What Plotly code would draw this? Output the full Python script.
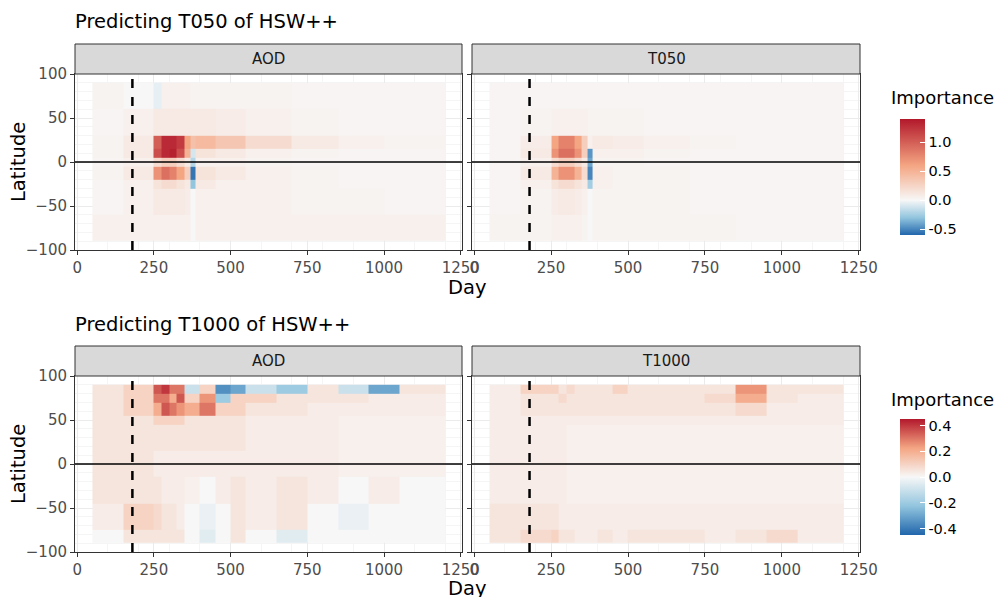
import plotly.graph_objects as go

# bin edges (day, latitude) and importance values
day_edges_top = [50, 150, 250, 275, 300, 325, 350, 370, 385, 450, 550, 700, 850, 1000, 1200]
lat_edges_top = [-90, -60, -30, -20, -5, 5, 15, 30, 60, 90]

t050_aod = [
    [0.05, 0.05, 0.05, 0.05, 0.05, 0.05, 0.05, 0.0, 0.05, 0.05, 0.05, 0.05, 0.05, 0.05],
    [0.02, 0.05, 0.1, 0.1, 0.1, 0.1, 0.08, 0.0, 0.05, 0.05, 0.05, 0.03, 0.03, 0.02],
    [0.02, 0.05, 0.15, 0.2, 0.2, 0.15, 0.1, -0.3, 0.1, 0.05, 0.05, 0.03, 0.02, 0.02],
    [0.03, 0.1, 0.7, 0.9, 0.8, 0.6, 0.3, -0.55, 0.15, 0.1, 0.05, 0.03, 0.02, 0.02],
    [0.02, 0.05, 0.2, 0.3, 0.3, 0.2, 0.1, -0.2, 0.05, 0.05, 0.03, 0.02, 0.02, 0.02],
    [0.03, 0.1, 1.1, 1.3, 1.35, 1.1, 0.5, -0.1, 0.15, 0.1, 0.05, 0.03, 0.02, 0.02],
    [0.03, 0.1, 1.0, 1.3, 1.3, 1.2, 0.6, 0.4, 0.45, 0.35, 0.2, 0.1, 0.05, 0.03],
    [0.02, 0.05, 0.1, 0.1, 0.1, 0.1, 0.1, 0.1, 0.1, 0.08, 0.05, 0.03, 0.02, 0.02],
    [0.03, 0.0, -0.05, 0.05, 0.05, 0.05, 0.05, 0.03, 0.03, 0.03, 0.03, 0.02, 0.02, 0.02],
]
t050_t050 = [
    [0.03, 0.03, 0.05, 0.05, 0.05, 0.05, 0.03, 0.0, 0.03, 0.03, 0.03, 0.03, 0.02, 0.02],
    [0.02, 0.03, 0.08, 0.1, 0.1, 0.08, 0.05, 0.0, 0.03, 0.03, 0.03, 0.02, 0.02, 0.02],
    [0.02, 0.05, 0.15, 0.2, 0.2, 0.15, 0.1, -0.25, 0.05, 0.03, 0.03, 0.02, 0.02, 0.02],
    [0.02, 0.1, 0.5, 0.7, 0.7, 0.5, 0.2, -0.5, 0.05, 0.03, 0.03, 0.02, 0.02, 0.02],
    [0.02, 0.05, 0.2, 0.3, 0.3, 0.2, 0.1, -0.4, 0.03, 0.03, 0.02, 0.02, 0.02, 0.02],
    [0.02, 0.1, 0.7, 0.9, 0.9, 0.7, 0.3, -0.45, 0.05, 0.05, 0.03, 0.02, 0.02, 0.02],
    [0.02, 0.08, 0.6, 0.8, 0.8, 0.6, 0.3, 0.05, 0.1, 0.08, 0.05, 0.03, 0.02, 0.02],
    [0.02, 0.03, 0.05, 0.05, 0.05, 0.05, 0.05, 0.03, 0.03, 0.03, 0.02, 0.02, 0.02, 0.02],
    [0.02, 0.02, 0.02, 0.02, 0.02, 0.02, 0.02, 0.02, 0.02, 0.02, 0.02, 0.02, 0.02, 0.02],
]

day_edges_bot = [50, 150, 250, 275, 300, 325, 350, 400, 450, 500, 550, 650, 750, 850, 950, 1050, 1200]
lat_edges_bot = [-90, -75, -45, -15, 15, 45, 55, 70, 80, 90]

t1000_aod = [
    [0.0, 0.05, 0.05, 0.05, 0.05, 0.05, 0.0, -0.05, 0.0, 0.05, 0.0, -0.05, 0.0, 0.0, 0.0, 0.0],
    [0.03, 0.1, 0.08, 0.05, 0.05, 0.03, 0.0, -0.03, 0.0, 0.05, 0.03, 0.05, 0.0, -0.03, 0.0, 0.0],
    [0.05, 0.05, 0.05, 0.03, 0.03, 0.03, 0.02, 0.0, 0.03, 0.05, 0.03, 0.05, 0.03, 0.0, 0.03, 0.0],
    [0.05, 0.05, 0.03, 0.03, 0.03, 0.03, 0.03, 0.03, 0.03, 0.03, 0.03, 0.03, 0.03, 0.02, 0.02, 0.02],
    [0.05, 0.05, 0.05, 0.05, 0.05, 0.05, 0.05, 0.05, 0.05, 0.05, 0.03, 0.03, 0.03, 0.02, 0.02, 0.02],
    [0.05, 0.05, 0.1, 0.1, 0.1, 0.1, 0.05, 0.05, 0.05, 0.05, 0.03, 0.03, 0.03, 0.02, 0.02, 0.02],
    [0.05, 0.1, 0.2, 0.35, 0.3, 0.25, 0.2, 0.3, 0.1, 0.1, 0.05, 0.05, 0.03, 0.03, 0.03, 0.03],
    [0.05, 0.1, 0.3, 0.3, 0.2, 0.35, 0.1, 0.25, -0.2, 0.1, 0.1, 0.05, 0.05, 0.05, 0.03, 0.03],
    [0.05, 0.1, 0.35, 0.4, 0.3, 0.3, -0.1, 0.1, -0.35, -0.3, -0.1, -0.2, 0.05, -0.1, -0.3, 0.05],
]
t1000_t1000 = [
    [0.05, 0.08, 0.1, 0.05, 0.05, 0.03, 0.03, 0.05, 0.03, 0.05, 0.05, 0.05, 0.03, 0.05, 0.08, 0.03],
    [0.05, 0.05, 0.05, 0.03, 0.03, 0.03, 0.03, 0.03, 0.03, 0.03, 0.03, 0.03, 0.03, 0.03, 0.03, 0.03],
    [0.03, 0.03, 0.03, 0.03, 0.02, 0.02, 0.02, 0.02, 0.02, 0.02, 0.02, 0.02, 0.02, 0.02, 0.02, 0.02],
    [0.03, 0.03, 0.03, 0.03, 0.02, 0.02, 0.02, 0.02, 0.02, 0.02, 0.02, 0.02, 0.02, 0.02, 0.02, 0.02],
    [0.03, 0.03, 0.03, 0.03, 0.02, 0.02, 0.02, 0.02, 0.02, 0.02, 0.02, 0.02, 0.02, 0.02, 0.02, 0.02],
    [0.03, 0.03, 0.03, 0.03, 0.03, 0.03, 0.03, 0.03, 0.03, 0.03, 0.03, 0.03, 0.03, 0.03, 0.03, 0.03],
    [0.03, 0.05, 0.05, 0.05, 0.05, 0.05, 0.05, 0.05, 0.05, 0.05, 0.05, 0.05, 0.05, 0.08, 0.03, 0.03],
    [0.03, 0.05, 0.05, 0.08, 0.05, 0.05, 0.05, 0.05, 0.05, 0.05, 0.05, 0.05, 0.08, 0.2, 0.05, 0.03],
    [0.03, 0.1, 0.1, 0.05, 0.08, 0.05, 0.05, 0.05, 0.1, 0.05, 0.05, 0.05, 0.05, 0.25, 0.05, 0.05],
]

row_titles = ["Predicting T050 of HSW++", "Predicting T1000 of HSW++"]
strip_labels = ["AOD", "T050", "AOD", "T1000"]

W, H = 1006, 597
# the page body has an 8px margin, so positions are shifted back by 8
px = lambda v: (v - 8) / W
py = lambda v: 1 - (v - 8) / H

xdom = [(px(75), px(462)), (px(472), px(860))]
ydom = [(py(250), py(74)), (py(552), py(376))]
strips = [(py(74), py(44)), (py(376), py(346))]

top_scale = [[0, "#2166ac"], [0.15, "#92c5de"], [0.3, "#f7f7f7"], [0.6, "#f4a582"], [1, "#b2182b"]]
bot_scale = [[0, "#2166ac"], [0.25, "#92c5de"], [0.5, "#f7f7f7"], [0.75, "#f4a582"], [1, "#b2182b"]]

fig = go.Figure()
panels = [
    (t050_aod, day_edges_top, lat_edges_top, "coloraxis"),
    (t050_t050, day_edges_top, lat_edges_top, "coloraxis"),
    (t1000_aod, day_edges_bot, lat_edges_bot, "coloraxis2"),
    (t1000_t1000, day_edges_bot, lat_edges_bot, "coloraxis2"),
]
axis_font = dict(family="DejaVu Sans", size=15, color="#4d4d4d")
for i, (z, xe, ye, ca) in enumerate(panels):
    n = i + 1
    xa = "x" if n == 1 else f"x{n}"
    ya = "y" if n == 1 else f"y{n}"
    fig.add_trace(go.Heatmap(z=z, x=xe, y=ye, coloraxis=ca, xaxis=xa, yaxis=ya))
    r, c = divmod(i, 2)
    common = dict(showgrid=True, gridcolor="#ebebeb", zeroline=False, showline=True,
                  linecolor="#333333", mirror=True, ticks="outside", ticklen=4,
                  tickcolor="#333333", tickfont=axis_font, automargin=False,
                  minor=dict(showgrid=True, gridcolor="#f5f5f5"))
    fig.update_layout({
        f"xaxis{'' if n == 1 else n}": dict(domain=xdom[c], range=[-7, 1254],
                                           tickvals=[0, 250, 500, 750, 1000, 1250],
                                           anchor=ya, **common),
        f"yaxis{'' if n == 1 else n}": dict(domain=ydom[r], range=[-100, 100],
                                           tickvals=[-100, -50, 0, 50, 100],
                                           showticklabels=(c == 0), anchor=xa, **common),
    })
    fig.add_shape(type="line", xref=xa, yref=ya, x0=180, x1=180, y0=-100, y1=100,
                  line=dict(color="black", width=2.5, dash="dash"))
    fig.add_shape(type="line", xref=xa, yref=ya, x0=-7, x1=1254, y0=0, y1=0,
                  line=dict(color="black", width=1.3))
    fig.add_shape(type="rect", xref="paper", yref="paper", x0=xdom[c][0], x1=xdom[c][1],
                  y0=strips[r][0], y1=strips[r][1], fillcolor="#d9d9d9",
                  line=dict(color="#333333", width=1))
    fig.add_annotation(text=strip_labels[i], xref="paper", yref="paper",
                       x=(xdom[c][0] + xdom[c][1]) / 2, y=(strips[r][0] + strips[r][1]) / 2,
                       xanchor="center", yanchor="middle", showarrow=False,
                       font=dict(family="DejaVu Sans", size=15, color="#1a1a1a"))

txt = dict(xref="paper", yref="paper", showarrow=False, yanchor="middle",
           font=dict(family="DejaVu Sans", size=19.5, color="black"))
for r in range(2):
    fig.add_annotation(text=row_titles[r], x=px(73), y=py(22 + 302 * r), xanchor="left", **txt)
    fig.add_annotation(text="Day", x=px(467), y=py(287 + 301 * r), xanchor="center", **txt)
    fig.add_annotation(text="Latitude", x=px(18), y=(ydom[r][0] + ydom[r][1]) / 2,
                       xanchor="center", textangle=-90, **txt)
    fig.add_annotation(text="Importance", xref="paper", yref="paper", showarrow=False,
                       x=px(889), y=py(98 + 301 * r), xanchor="left", yanchor="middle",
                       font=dict(family="DejaVu Sans", size=18, color="black"))

cb = dict(thickness=25, len=136, lenmode="pixels", x=px(890), xanchor="left",
          yanchor="middle", outlinewidth=0, ticks="inside", ticklen=5, tickcolor="white",
          tickfont=dict(family="DejaVu Sans", size=14.5, color="black"))
fig.update_layout(
    width=W, height=H, margin=dict(l=0, r=0, t=0, b=0, autoexpand=False),
    paper_bgcolor="white", plot_bgcolor="white",
    coloraxis=dict(colorscale=top_scale, cmin=-0.6, cmax=1.4,
                   colorbar=dict(y=py(177), tickvals=[-0.5, 0, 0.5, 1.0],
                                 ticktext=["-0.5", "0.0", "0.5", "1.0"], **cb)),
    coloraxis2=dict(colorscale=bot_scale, cmin=-0.45, cmax=0.45,
                    colorbar=dict(y=py(477), tickvals=[-0.4, -0.2, 0, 0.2, 0.4],
                                  ticktext=["-0.4", "-0.2", "0.0", "0.2", "0.4"], **cb)),
)

fig.write_html("out.html")
